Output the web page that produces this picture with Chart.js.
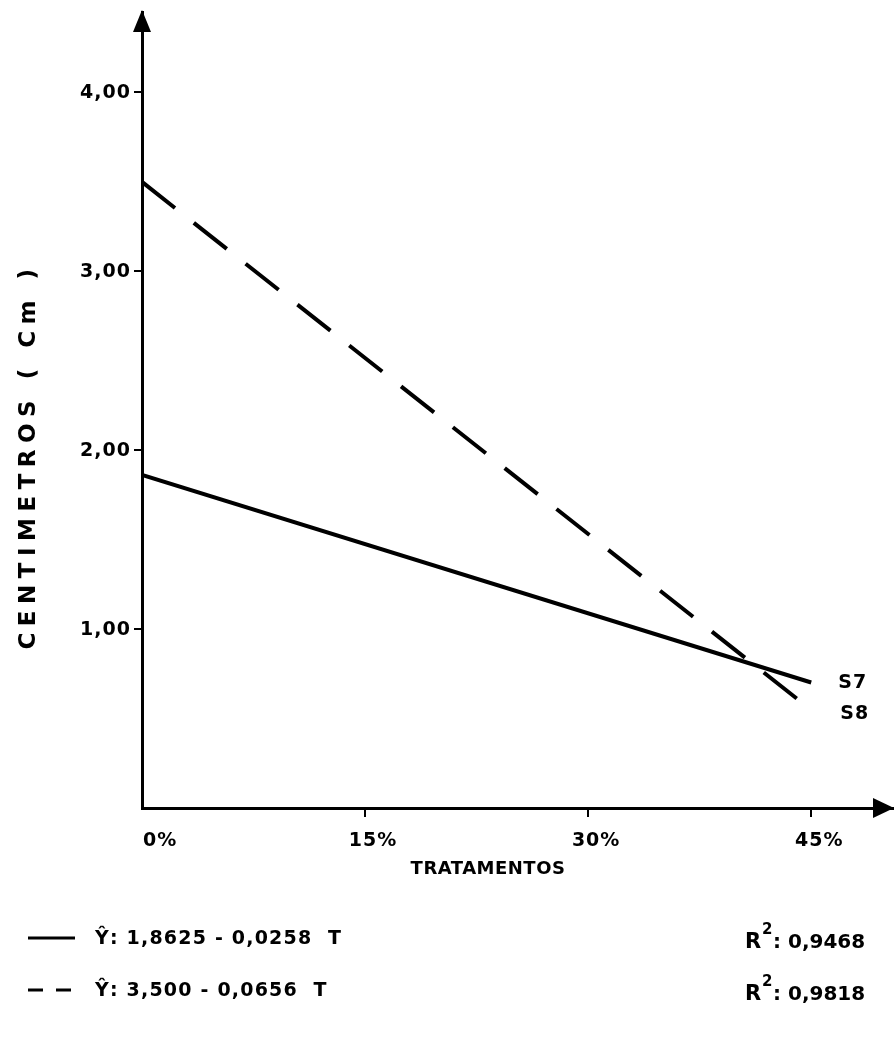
<!DOCTYPE html>
<html>
<head>
<meta charset="utf-8">
<script src="https://cdn.jsdelivr.net/npm/chart.js@4.4.1/dist/chart.umd.min.js"></script>
<style>
  html, body { margin: 0; padding: 0; background: #fff; }
  canvas { display: block; }
</style>
</head>
<body>
<canvas id="grafico" width="895" height="1055"></canvas>
<script>
// Tratamentos (%) e comprimento estimado (cm) pelas retas de regressão
const tratamentos = [0, 45];
const serieS7 = [1.8625, 0.7015];
const serieS8 = [3.500, 0.548];
const seriesNames = ['S7', 'S8'];

const xTicks = [0, 15, 30, 45];
const xTickLabels = ['0%', '15%', '30%', '45%'];
const yTicks = [1, 2, 3, 4];
const yTickLabels = ['1,00', '2,00', '3,00', '4,00'];

const xTitle = 'TRATAMENTOS';
const yTitle = 'CENTIMETROS ( Cm )';
const equations = ['Ŷ: 1,8625 - 0,0258  T', 'Ŷ: 3,500 - 0,0656  T'];
const r2Values = ['0,9468', '0,9818'];

const FONT = '"DejaVu Sans", sans-serif';
const INK = '#000';

function txt(ctx, s, x, y, size, opts = {}) {
  ctx.save();
  ctx.font = `${opts.weight || 'bold'} ${size}px ${FONT}`;
  ctx.fillStyle = INK;
  ctx.textAlign = opts.align || 'left';
  ctx.textBaseline = opts.baseline || 'middle';
  ctx.letterSpacing = (opts.spacing || 0) + 'px';
  if (opts.rotate) {
    ctx.translate(x, y);
    ctx.rotate(opts.rotate);
    ctx.fillText(s, 0, 0);
  } else {
    ctx.fillText(s, x, y);
  }
  ctx.restore();
}

// Setas dos eixos, rótulos, títulos e legenda das equações
const desenhoExtra = {
  id: 'desenhoExtra',
  afterDraw(chart) {
    const ctx = chart.ctx;
    const xs = chart.scales.x, ys = chart.scales.y;
    const ca = chart.chartArea;
    const x0 = xs.getPixelForValue(0), y0 = ys.getPixelForValue(0);

    // setas
    ctx.save();
    ctx.fillStyle = INK;
    ctx.beginPath();
    ctx.moveTo(x0, ca.top - 2);
    ctx.lineTo(x0 - 9, ca.top + 20);
    ctx.lineTo(x0 + 9, ca.top + 20);
    ctx.closePath();
    ctx.fill();
    ctx.beginPath();
    ctx.moveTo(ca.right + 1, y0);
    ctx.lineTo(ca.right - 20, y0 - 10);
    ctx.lineTo(ca.right - 20, y0 + 10);
    ctx.closePath();
    ctx.fill();
    ctx.restore();

    // rótulos do eixo Y
    yTicks.forEach((v, i) => {
      txt(ctx, yTickLabels[i], x0 - 11, ys.getPixelForValue(v) + 1, 19, { align: 'right', spacing: 1 });
    });
    // rótulos do eixo X
    xTicks.forEach((v, i) => {
      const px = xs.getPixelForValue(v);
      if (v === 0) txt(ctx, xTickLabels[i], px + 1, y0 + 33, 19, { align: 'left', spacing: 1 });
      else txt(ctx, xTickLabels[i], px + 8, y0 + 33, 19, { align: 'center', spacing: 1 });
    });

    // títulos
    txt(ctx, xTitle, 488, y0 + 61, 18, { align: 'center', spacing: 0.5 });
    txt(ctx, yTitle, 29, 456, 23, { align: 'center', spacing: 6.5, rotate: -Math.PI / 2 });

    // nomes das séries no fim de cada reta
    const xEnd = xs.getPixelForValue(tratamentos[tratamentos.length - 1]);
    txt(ctx, seriesNames[0], xEnd + 27, ys.getPixelForValue(serieS7[serieS7.length - 1]) + 1, 19, { spacing: 1 });
    txt(ctx, seriesNames[1], xEnd + 29, ys.getPixelForValue(serieS8[serieS8.length - 1]) + 4, 19, { spacing: 1 });

    // legenda com as equações
    const rows = [938, 990];
    ctx.save();
    ctx.strokeStyle = INK;
    ctx.lineWidth = 3;
    ctx.beginPath();
    ctx.moveTo(28, rows[0]); ctx.lineTo(75, rows[0]);
    ctx.stroke();
    ctx.setLineDash([15, 13]);
    ctx.beginPath();
    ctx.moveTo(28, rows[1]); ctx.lineTo(75, rows[1]);
    ctx.stroke();
    ctx.restore();

    rows.forEach((ry, i) => {
      txt(ctx, equations[i], 95, ry + 1, 19, { spacing: 1.2 });
      txt(ctx, 'R', 745, ry + 5, 21, {});
      txt(ctx, '2', 762, ry - 8, 15, {});
      txt(ctx, ': ' + r2Values[i], 773, ry + 5, 20, { spacing: 0 });
    });
  }
};

new Chart(document.getElementById('grafico'), {
  type: 'line',
  data: {
    datasets: [
      {
        label: seriesNames[0],
        data: tratamentos.map((t, i) => ({ x: t, y: serieS7[i] })),
        borderColor: INK,
        borderWidth: 4,
        pointRadius: 0,
        tension: 0
      },
      {
        label: seriesNames[1],
        data: tratamentos.map((t, i) => ({ x: t, y: serieS8[i] })),
        borderColor: INK,
        borderWidth: 4,
        borderDash: [42, 24],
        pointRadius: 0,
        tension: 0
      }
    ]
  },
  options: {
    responsive: false,
    animation: false,
    layout: { padding: { top: 12, right: 2, left: 0, bottom: 0 } },
    plugins: { legend: { display: false }, tooltip: { enabled: false } },
    scales: {
      x: {
        type: 'linear',
        min: 0,
        max: 50.5,
        afterFit: s => { s.height = 247; },
        afterBuildTicks: s => { s.ticks = xTicks.map(v => ({ value: v })); },
        ticks: { display: false },
        grid: {
          drawOnChartArea: false,
          drawTicks: true,
          tickLength: 9,
          lineWidth: 2,
          color: c => (c.tick && c.tick.value === 0 ? 'rgba(0,0,0,0)' : INK)
        },
        border: { display: true, color: INK, width: 3 }
      },
      y: {
        type: 'linear',
        min: 0,
        max: 4.45,
        afterFit: s => { s.width = 142; },
        afterBuildTicks: s => { s.ticks = yTicks.map(v => ({ value: v })); },
        ticks: { display: false },
        grid: {
          drawOnChartArea: false,
          drawTicks: true,
          tickLength: 8,
          lineWidth: 2,
          color: INK
        },
        border: { display: true, color: INK, width: 3 }
      }
    }
  },
  plugins: [desenhoExtra]
});
</script>
</body>
</html>
